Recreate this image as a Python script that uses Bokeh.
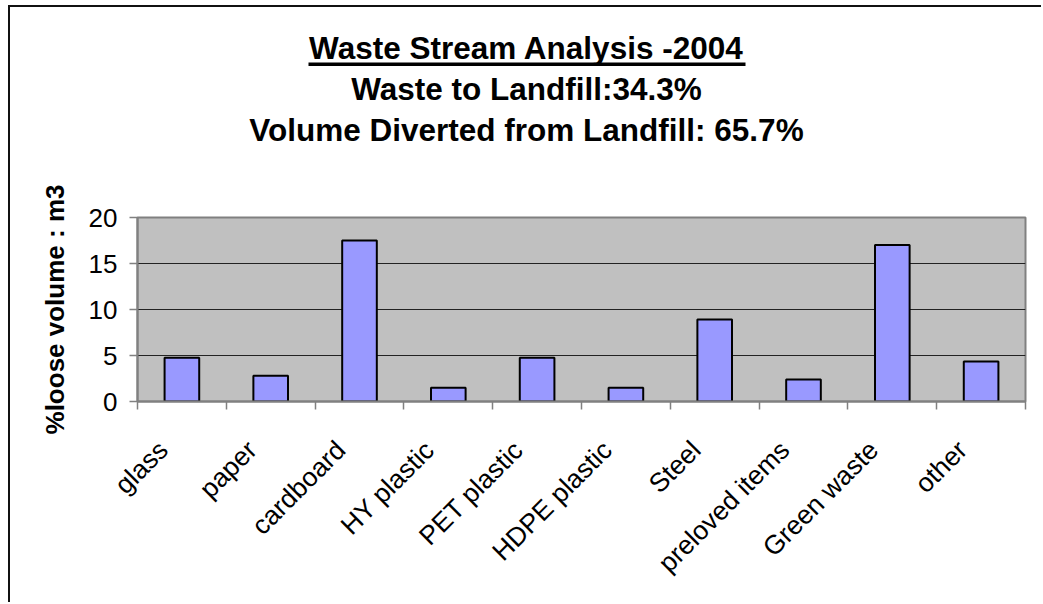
import math
import numpy as np
from bokeh.plotting import figure
from bokeh.layouts import column
from bokeh.models import Range1d, FixedTicker, CustomJSTickFormatter, Label, BoxAnnotation
from bokeh.embed import file_html
from bokeh.resources import INLINE

# ---- data ----
categories = ["glass", "paper", "cardboard", "HY plastic", "PET plastic",
              "HDPE plastic", "Steel", "preloved items", "Green waste", "other"]
volumes = [4.75, 2.8, 17.5, 1.5, 4.75, 1.5, 8.9, 2.4, 17.0, 4.35]
y_ticks = [0, 5, 10, 15, 20]
title_lines = ["Waste Stream Analysis -2004",
               "Waste to Landfill:34.3%",
               "Volume Diverted from Landfill: 65.7%"]
y_label = "%loose volume : m3"

FONT = "Liberation Sans"
W = 1031
HEAD_H = 150
BL, BR = 127, 16          # left / right borders shared by both figures
FW = W - BL - BR          # frame width (888 px)
n = len(categories)
centers = np.arange(n) + 0.5
boundaries = list(np.arange(n + 1).astype(float))
label_pos = list(centers - 0.21)

# ---- header (titles) ----
head = figure(width=W, height=HEAD_H, x_range=Range1d(0, FW), y_range=Range1d(0, HEAD_H),
              output_backend="svg", toolbar_location=None,
              min_border_left=BL, min_border_right=BR,
              min_border_top=0, min_border_bottom=0,
              background_fill_color="white", border_fill_color="white",
              outline_line_color=None)
head.axis.visible = False
head.grid.visible = False
title_y = [109.7, 68.7, 27.7]   # vertical middles of the three title lines
for txt, ty in zip(title_lines, title_y):
    head.add_layout(Label(x=389, y=ty, text=txt,
                          text_align="center", text_baseline="middle",
                          text_font=FONT, text_font_style="bold",
                          text_font_size="31.5px", text_color="black"))
head.add_layout(BoxAnnotation(left=171, right=608, bottom=91.5, top=95,
                              fill_color="black", fill_alpha=1.0, line_color=None))

# ---- chart ----
p = figure(width=W, height=445,
           x_range=Range1d(0, n), y_range=Range1d(0, y_ticks[-1]),
           output_backend="svg", toolbar_location=None,
           min_border_left=BL, min_border_right=BR,
           min_border_top=60, min_border_bottom=201,
           background_fill_color="#C0C0C0", border_fill_color="white",
           outline_line_color="#808080", outline_line_width=2)

p.vbar(x=centers, top=volumes, width=0.39, fill_color="#9999FF",
       line_color="black", line_width=2)

# y axis
p.yaxis.ticker = FixedTicker(ticks=y_ticks)
p.yaxis.axis_line_color = "#808080"
p.yaxis.axis_line_width = 2
p.yaxis.major_tick_line_color = "#808080"
p.yaxis.major_tick_line_width = 1.5
p.yaxis.major_tick_out = 8
p.yaxis.major_tick_in = 0
p.yaxis.minor_tick_line_color = None
p.yaxis.major_label_standoff = 12
p.yaxis.major_label_text_font = FONT
p.yaxis.major_label_text_font_size = "26px"
p.yaxis.major_label_text_color = "black"
p.yaxis.axis_label = y_label
p.yaxis.axis_label_text_font = FONT
p.yaxis.axis_label_text_font_style = "bold"
p.yaxis.axis_label_text_font_size = "26px"
p.yaxis.axis_label_text_color = "black"
p.yaxis.axis_label_standoff = 16

# x axis
p.xaxis.ticker = FixedTicker(ticks=label_pos, minor_ticks=boundaries)
p.xaxis.formatter = CustomJSTickFormatter(args=dict(names=categories),
                                          code="return names[Math.floor(tick)];")
p.xaxis.axis_line_color = "#808080"
p.xaxis.axis_line_width = 2
p.xaxis.major_tick_line_color = None
p.xaxis.major_tick_out = 0
p.xaxis.major_tick_in = 0
p.xaxis.minor_tick_line_color = "#808080"
p.xaxis.minor_tick_line_width = 1.5
p.xaxis.minor_tick_out = 8
p.xaxis.minor_tick_in = 0
p.xaxis.major_label_orientation = math.pi / 4
p.xaxis.major_label_standoff = 36
p.xaxis.major_label_text_font = FONT
p.xaxis.major_label_text_font_size = "26.5px"
p.xaxis.major_label_text_color = "black"

# grid
p.xgrid.visible = False
p.ygrid.ticker = FixedTicker(ticks=y_ticks[1:-1])
p.ygrid.grid_line_color = "#222222"
p.ygrid.grid_line_width = 1

layout = column(head, p, spacing=0,
                styles={"border-left": "2px solid #111111",
                        "border-top": "2px solid #111111",
                        "margin-left": "8px",
                        "margin-top": "5px"})

open("out.html", "w").write(file_html(layout, INLINE))
